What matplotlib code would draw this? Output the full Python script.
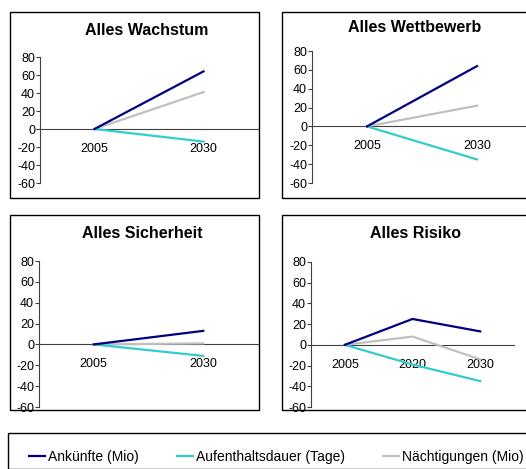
import matplotlib.pyplot as plt
from matplotlib.lines import Line2D
from matplotlib.patches import Rectangle

plt.rcParams['font.family'] = ['Liberation Sans', 'DejaVu Sans']
plt.rcParams['axes.unicode_minus'] = False

# scenario data (change vs. 2005)
titles = ["Alles Wachstum", "Alles Wettbewerb", "Alles Sicherheit", "Alles Risiko"]
years = [["2005", "2030"], ["2005", "2030"], ["2005", "2030"], ["2005", "2020", "2030"]]
ankuenfte = [[0, 64], [0, 64], [0, 13], [0, 25, 13]]
aufenthalt = [[0, -14], [0, -35], [0, -11], [0, -19, -35]]
naechtigungen = [[0, 41], [0, 22], [0, 1], [0, 8, -14]]

series_names = ["Ankünfte (Mio)", "Aufenthaltsdauer (Tage)", "Nächtigungen (Mio)"]
colors = ["#000080", "#33CCCC", "#C0C0C0"]

W, H = 526, 469
fig = plt.figure(figsize=(W / 100, H / 100), dpi=100)


def fbox(l, t, r, b):
    # pixel box -> figure fraction [left, bottom, width, height]
    return [l / W, 1 - b / H, (r - l) / W, (b - t) / H]


# panel frames, axes rectangles and title centres (pixels)
frames = [(10, 12, 259, 198), (282, 12, 540, 198),
          (10, 215, 259, 410), (282, 215, 540, 410)]
axboxes = [(40, 57, 258, 183), (312, 51, 532, 183),
           (39, 261, 258, 407), (311, 262, 514, 407)]
title_pos = [(147, 30), (415, 28), (142, 234), (416, 234)]

for i in range(4):
    l, t, r, b = frames[i]
    fig.patches.append(Rectangle((l / W, 1 - b / H), (r - l) / W, (b - t) / H,
                                 transform=fig.transFigure, fill=False,
                                 edgecolor="black", linewidth=1.0))
    tx, ty = title_pos[i]
    fig.text(tx / W, 1 - ty / H, titles[i], ha="center", va="center",
             fontsize=11.5, fontweight="bold")

    ax = fig.add_axes(fbox(*axboxes[i]))
    x = list(range(len(years[i])))
    ax.plot(x, naechtigungen[i], color=colors[2], lw=1.6, zorder=3)
    ax.plot(x, aufenthalt[i], color=colors[1], lw=1.6, zorder=4)
    ax.plot(x, ankuenfte[i], color=colors[0], lw=1.6, zorder=5)
    ax.set_xlim(-0.5, len(x) - 0.5)
    ax.set_ylim(-60, 80)
    ax.set_yticks(range(-60, 81, 20))
    ax.set_xticks(x)
    ax.set_xticklabels(years[i])
    ax.patch.set_visible(False)
    for s in ["top", "right"]:
        ax.spines[s].set_visible(False)
    ax.spines["bottom"].set_position(("data", 0))
    ax.spines["bottom"].set_color("#404040")
    ax.spines["bottom"].set_zorder(2)
    ax.spines["left"].set_color("#404040")
    ax.tick_params(axis="x", length=0, pad=10, labelsize=9)
    ax.tick_params(axis="y", length=3, width=0.8, pad=0.5, labelsize=9,
                   color="#404040")

# legend box
fig.patches.append(Rectangle((8 / W, 0), 530 / W, 1 - 433 / H,
                             transform=fig.transFigure, fill=False,
                             edgecolor="black", linewidth=1.0))
handles = [Line2D([], [], color=c, lw=1.6) for c in colors]
fig.legend(handles, series_names, loc="center left",
           bbox_to_anchor=(22 / W, 1 - 457 / H), ncol=3, frameon=False,
           fontsize=10, handlelength=1.15, handletextpad=0.25,
           columnspacing=2.7, borderpad=0)

fig.savefig("out.png", dpi=100)
